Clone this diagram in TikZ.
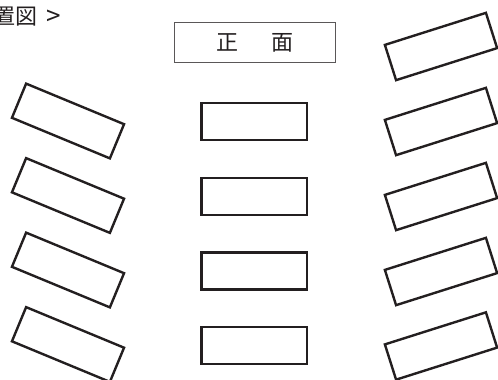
\documentclass[tikz,border=0pt]{standalone}
\usepackage{fontspec}
\newfontfamily\jp{Noto Sans CJK JP}
\definecolor{ink}{HTML}{231F20}
\begin{document}
\begin{tikzpicture}[x=1pt,y=-1pt,
  seat/.style={draw=ink,line width=2.4pt,minimum width=106pt,minimum height=37pt,inner sep=0pt},
  lseat/.style={seat,rotate=-22.5},
  rseat/.style={seat,rotate=17.6},
  lbl/.style={font=\jp\fontsize{22pt}{24pt}\selectfont,text=ink,inner sep=0pt}]
\useasboundingbox (0,0) rectangle (498,380);
\node[lbl,anchor=east] (title) at (37.5,17) {置図};
\node[lbl,font=\jp\fontsize{26pt}{28pt}\selectfont] (titlegt) at (54,18) {>};
\node[draw=ink!75,line width=1.3pt,minimum width=161pt,minimum height=40pt,inner sep=0pt] (front) at (255.2,42.7) {};
\node[lbl] (fronttext) at (255.2,42.7) {正\hspace{32.5pt}面};
\foreach \i/\y in {1/121,2/195.5,3/270,4/344.5}{
  \node[lseat] (L\i) at (68,\y) {};
}
\foreach \i/\y in {1/121.7,2/196.5,3/271,4/345.5}{
  \node[seat,minimum width=105.5pt] (M\i) at (254.3,\y) {};
}
\foreach \i/\y in {1/46.5,2/121.5,3/196.5,4/271.5,5/346}{
  \node[rseat] (R\i) at (441,\y) {};
}
\end{tikzpicture}
\end{document}
